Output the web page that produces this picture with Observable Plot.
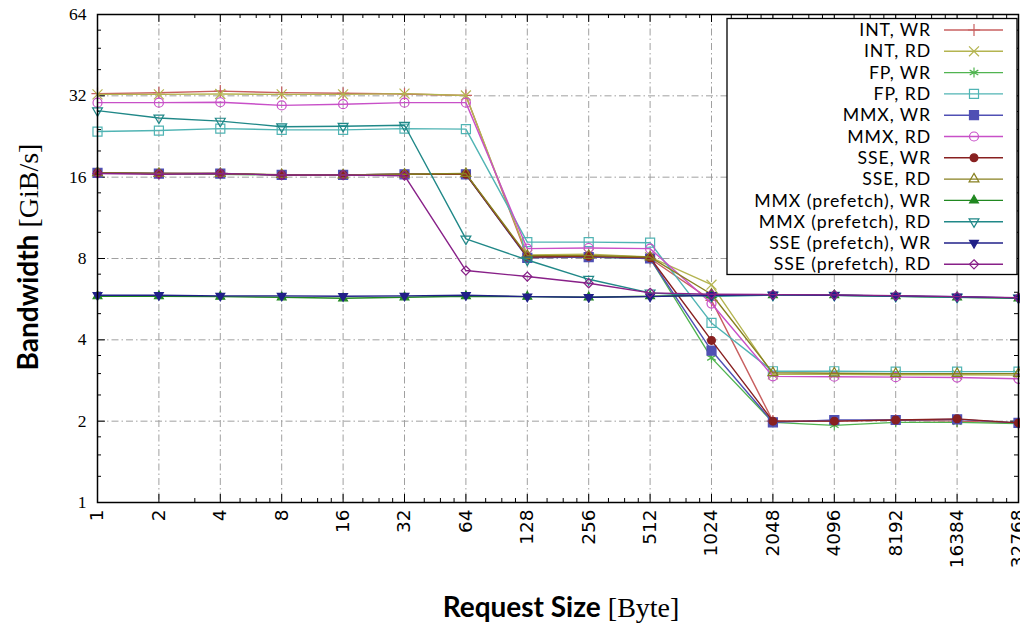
<!DOCTYPE html>
<html><head><meta charset="utf-8">
<script src="https://cdn.jsdelivr.net/npm/d3@7"></script>
<script src="https://cdn.jsdelivr.net/npm/@observablehq/plot@0.6"></script>
<style>body{margin:0;background:#fff}#chart svg{display:block}</style>
</head><body><div id="chart"></div>
<script>
// ---- data ----
const sizes = [1,2,4,8,16,32,64,128,256,512,1024,2048,4096,8192,16384,32768];
const xTickLabels = ["1","2","4","8","16","32","64","128","256","512","1024","2048","4096","8192","16384","32768"];
const yTicks = [1,2,4,8,16,32,64];
const yTickLabels = ["1","2","4","8","16","32","64"];
const seriesNames = ["INT, WR","INT, RD","FP, WR","FP, RD","MMX, WR","MMX, RD","SSE, WR","SSE, RD",
  "MMX (prefetch), WR","MMX (prefetch), RD","SSE (prefetch), WR","SSE (prefetch), RD"];
const intWR  = [32.6,32.85,33.3,32.9,32.7,32.5,32.1,8.1,8.15,8.0,5.6,2.0,2.0,2.02,2.0,1.97];
const intRD  = [32.4,32.4,32.5,32.4,32.4,32.6,32.1,8.25,8.3,8.1,6.4,2.98,2.98,2.97,2.97,2.96];
const fpWR   = [16.6,16.5,16.4,16.3,16.3,16.4,16.4,8.1,8.1,8.0,3.43,1.98,1.93,1.98,1.98,1.96];
const fpRD   = [23.6,23.8,24.2,23.95,23.95,24.2,24.1,9.2,9.2,9.15,4.62,3.06,3.06,3.05,3.05,3.05];
const mmxWR  = [16.6,16.5,16.5,16.3,16.3,16.4,16.4,8.05,8.1,8.0,3.65,1.98,2.02,2.02,2.03,1.97];
const mmxRD  = [30.2,30.2,30.3,29.5,29.8,30.2,30.2,8.7,8.75,8.7,5.45,2.93,2.92,2.91,2.9,2.87];
const sseWR  = [16.6,16.5,16.5,16.3,16.3,16.4,16.4,8.1,8.15,8.05,3.98,2.0,2.0,2.02,2.04,1.97];
const sseRD  = [16.6,16.5,16.5,16.35,16.3,16.4,16.5,8.2,8.2,8.1,5.9,3.02,3.01,3.0,3.0,3.0];
const mmxPfWR = [5.8,5.8,5.78,5.75,5.7,5.75,5.8,5.78,5.75,5.8,5.85,5.85,5.85,5.8,5.75,5.7];
const mmxPfRD = [28.2,26.5,25.8,24.6,24.7,24.9,9.45,7.9,6.7,5.97,5.8,5.85,5.85,5.8,5.75,5.72];
const ssePfWR = [5.85,5.85,5.82,5.82,5.8,5.82,5.85,5.78,5.75,5.78,5.85,5.88,5.85,5.82,5.78,5.72];
const ssePfRD = [16.5,16.4,16.5,16.3,16.3,16.2,7.22,6.86,6.48,5.97,5.9,5.88,5.87,5.83,5.78,5.73];
const seriesValues = [intWR,intRD,fpWR,fpRD,mmxWR,mmxRD,sseWR,sseRD,mmxPfWR,mmxPfRD,ssePfWR,ssePfRD];
const xTitle = ["Request Size", " [Byte]"];
const yTitle = ["Bandwidth", " [GiB/s]"];

// ---- styles ----
const colors = ["#c86060","#b4b450","#50b450","#50b4b4","#5050b4","#c850c8","#882020","#888020","#208820","#208888","#202088","#882088"];
const triangleDown = {draw(ctx, size){const s=Math.sqrt(size)*0.6824,t=s/2,u=s*Math.sqrt(3)/2;ctx.moveTo(0,s);ctx.lineTo(u,-t);ctx.lineTo(-u,-t);ctx.closePath();}};
const symbols = ["plus","times","asterisk","square","square","circle","circle","triangle2","triangle2",triangleDown,triangleDown,"diamond2"];
const filled  = [false,false,false,false,true,false,true,false,true,false,true,false];
const radii   = [4,4.6,4.7,5.1,5.1,4.5,3.9,4.7,4.2,4.7,4.2,4.1];

const serifFont = "'Liberation Serif', 'DejaVu Serif', serif";
const sansFont = "Lato, 'Open Sans', sans-serif";
const tickSans = "'DejaVu Sans', sans-serif";

const rows = seriesValues.flatMap((vals, i) => vals.map((v, j) => ({s: i, x: sizes[j], y: v})));

// minor ticks
const xMinor = [];
for (let k = 1; k < 15; k++) { const b = 2 ** k; for (let j = 1; j < 4; j++) { const v = b * (1 + j / 4); if (Number.isInteger(v)) xMinor.push(v); } }
const yMinor = [];
for (let k = 0; k < 6; k++) { const b = 2 ** k; for (let j = 1; j < 4; j++) yMinor.push(b * (1 + j / 4)); }

const marks = [
  Plot.gridX(sizes, {stroke: "#a0a0a0", strokeOpacity: 1, strokeDasharray: "7,3,1.5,3"}),
  Plot.gridY(yTicks, {stroke: "#a0a0a0", strokeOpacity: 1, strokeDasharray: "7,3,1.5,3"}),
  Plot.tickX(sizes, {x: d => d, insetTop: 480, stroke: "black"}),
  Plot.tickX(sizes, {x: d => d, insetBottom: 480, stroke: "black"}),
  Plot.tickX(xMinor, {x: d => d, insetTop: 484, stroke: "black"}),
  Plot.tickX(xMinor, {x: d => d, insetBottom: 484, stroke: "black"}),
  Plot.tickY(yTicks, {y: d => d, insetRight: 913, stroke: "black"}),
  Plot.tickY(yTicks, {y: d => d, insetLeft: 913, stroke: "black"}),
  Plot.tickY(yMinor, {y: d => d, insetRight: 917, stroke: "black"}),
  Plot.tickY(yMinor, {y: d => d, insetLeft: 917, stroke: "black"}),
  Plot.axisX(sizes, {tickSize: 0, tickPadding: 7, tickRotate: -90, fontSize: 18.5, fontFamily: tickSans, tickFormat: d => xTickLabels[sizes.indexOf(d)], label: null}),
  Plot.axisY(yTicks, {tickSize: 0, tickPadding: 11, fontSize: 17.5, fontFamily: serifFont, tickFormat: d => yTickLabels[yTicks.indexOf(d)], label: null}),
];
seriesValues.forEach((vals, i) => {
  const data = rows.filter(r => r.s === i);
  marks.push(Plot.line(data, {x: "x", y: "y", stroke: colors[i], strokeWidth: 1.4}));
  marks.push(Plot.dot(data, {x: "x", y: "y", symbol: symbols[i], r: radii[i], stroke: colors[i], fill: filled[i] ? colors[i] : "none", strokeWidth: 1.2}));
});
marks.push(Plot.frame({stroke: "black", strokeWidth: 1.5}));

const chart = Plot.plot({
  width: 1020, height: 627,
  marginLeft: 97, marginRight: 2, marginTop: 14, marginBottom: 125,
  x: {type: "log", base: 2, domain: [1, 32768]},
  y: {type: "log", base: 2, domain: [1, 64]},
  style: {background: "white", overflow: "hidden"},
  marks
});
document.getElementById("chart").appendChild(chart);

// ---- axis titles ----
const svg = d3.select(chart);
const xt = svg.append("text").attr("x", 561).attr("y", 617).attr("text-anchor", "middle").attr("font-size", 28).attr("fill", "black");
xt.append("tspan").attr("font-family", sansFont).attr("font-weight", "bold").text(xTitle[0]);
xt.append("tspan").attr("font-family", serifFont).attr("font-size", 28).text(xTitle[1]);
const yt = svg.append("text").attr("transform", "translate(38,257) rotate(-90)").attr("text-anchor", "middle").attr("font-size", 28).attr("fill", "black");
yt.append("tspan").attr("font-family", sansFont).attr("font-weight", "bold").text(yTitle[0]);
yt.append("tspan").attr("font-family", serifFont).attr("font-size", 28).text(yTitle[1]);

// ---- legend ----
const lg = svg.append("g");
lg.append("rect").attr("x", 727).attr("y", 18.5).attr("width", 290).attr("height", 256).attr("fill", "white").attr("stroke", "black").attr("stroke-width", 1.3);
const symbolTypes = {plus: d3.symbolPlus, times: d3.symbolTimes, asterisk: d3.symbolAsterisk, square: d3.symbolSquare, circle: d3.symbolCircle, triangle2: d3.symbolTriangle2, diamond2: d3.symbolDiamond2};
seriesNames.forEach((name, i) => {
  const y = 30 + i * 21.3;
  lg.append("text").attr("x", 931).attr("y", y).attr("dy", "0.35em").attr("text-anchor", "end")
    .attr("font-family", sansFont).attr("font-size", 17.7).attr("letter-spacing", 0.9).attr("fill", "black").text(name);
  lg.append("line").attr("x1", 944).attr("x2", 1003).attr("y1", y).attr("y2", y).attr("stroke", colors[i]).attr("stroke-width", 1.4);
  const st = typeof symbols[i] === "string" ? symbolTypes[symbols[i]] : symbols[i];
  lg.append("path").attr("transform", `translate(974,${y})`).attr("d", d3.symbol(st, Math.PI * radii[i] ** 2)())
    .attr("fill", filled[i] ? colors[i] : "none").attr("stroke", colors[i]).attr("stroke-width", 1.2);
});
</script></body></html>
